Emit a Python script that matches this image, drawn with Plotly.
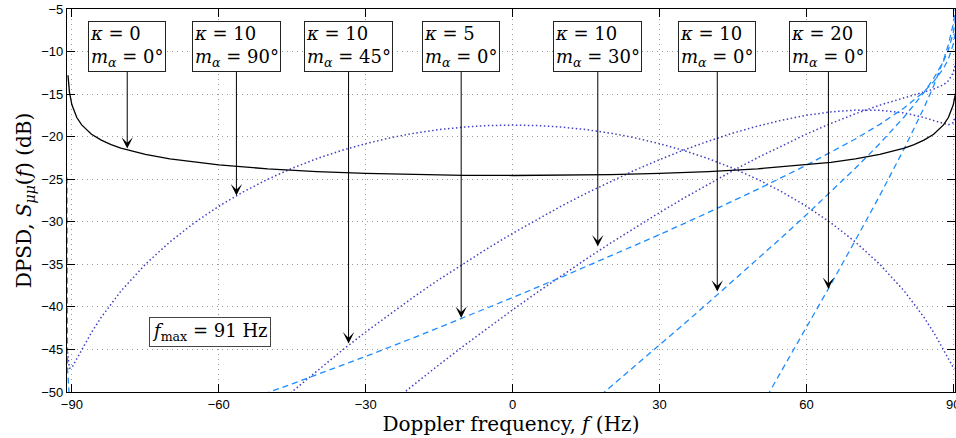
import plotly.graph_objects as go

# ---- data ----
# kappa = 0 (solid black)
f_k0 = [-90.8, -90.5, -90, -89, -88, -86, -84, -82, -80, -75, -70, -65, -60, -50, -40, -30, -20, -10, 0,
        10, 20, 30, 40, 50, 60, 65, 70, 75, 80, 82, 84, 86, 88, 89, 90, 90.5, 90.9]
s_k0 = [-12.78, -14.76, -16.26, -17.75, -18.62, -19.71, -20.41, -20.93, -21.34, -22.09, -22.62, -23.01, -23.32,
        -23.78, -24.10, -24.31, -24.45, -24.54, -24.56,
        -24.54, -24.45, -24.31, -24.10, -23.78, -23.32, -23.01, -22.62, -22.09, -21.34, -20.93, -20.41, -19.71,
        -18.62, -17.75, -16.26, -14.76, -11.27]

# kappa = 10, m_alpha = 90 deg (dotted)
f_k10_90 = [-90.9, -90.5, -90, -89, -88, -86, -84, -80, -75, -70, -65, -60, -55, -50, -45, -40, -35, -30, -25,
            -20, -15, -10, -5, 0, 5, 10, 15, 20, 25, 30, 35, 40, 45, 50, 55, 60, 65, 70, 75, 80, 84, 86, 88,
            89, 90, 90.5, 90.9]
s_k10_90 = [-45.31, -47.22, -47.13, -46.14, -45.04, -43.01, -41.21, -38.15, -35.00, -32.37, -30.12, -28.18,
            -26.48, -25.00, -23.71, -22.59, -21.63, -20.82, -20.14, -19.59, -19.17, -18.88, -18.70, -18.64,
            -18.70, -18.88, -19.17, -19.59, -20.14, -20.82, -21.63, -22.59, -23.71, -25.00, -26.48, -28.18,
            -30.12, -32.37, -35.00, -38.15, -41.21, -43.01, -45.04, -46.14, -47.13, -47.22, -45.31]

# kappa = 10, m_alpha = 45 deg (dotted)
f_k10_45 = [-55, -50, -45, -40, -35, -30, -25, -20, -15, -10, -5, 0, 5, 10, 15, 20, 25, 30, 35, 40, 45, 50,
            55, 60, 65, 70, 75, 80, 84, 86, 88, 89, 90, 90.5, 90.9]
s_k10_45 = [-55.18, -52.50, -49.95, -47.52, -45.19, -42.95, -40.81, -38.75, -36.78, -34.89, -33.09, -31.36,
            -29.71, -28.14, -26.66, -25.25, -23.93, -22.70, -21.56, -20.52, -19.58, -18.76, -18.06, -17.49,
            -17.09, -16.88, -16.90, -17.21, -17.74, -18.11, -18.49, -18.60, -18.35, -17.62, -14.86]

# kappa = 10, m_alpha = 30 deg (dotted)
f_k10_30 = [-25, -22, -20, -15, -10, -5, 0, 5, 10, 15, 20, 25, 30, 35, 40, 45, 50, 55, 60, 65, 70, 75, 80,
            84, 86, 88, 89, 90, 90.5, 90.9]
s_k10_30 = [-51.35, -49.96, -49.04, -46.79, -44.59, -42.45, -40.35, -38.31, -36.33, -34.39, -32.51, -30.69,
            -28.92, -27.21, -25.56, -23.99, -22.48, -21.05, -19.70, -18.45, -17.31, -16.29, -15.40, -14.76,
            -14.41, -13.90, -13.44, -12.47, -11.28, -8.08]

# kappa = 5, m_alpha = 0 deg (dashed)
f_k5_0 = [-91, -90.9, -90.5, -90, -88, -84, -80, -70, -60, -55, -50, -45, -40, -35, -30, -20, -10, 0, 10, 20,
          30, 40, 50, 60, 70, 75, 80, 84, 86, 88, 89, 90, 90.5, 90.9]
s_k5_0 = [-24.8, -47.3, -50.71, -52.09, -53.97, -54.81, -54.79, -53.67, -51.99, -51.05, -50.07, -49.04,
          -47.99, -46.92, -45.82, -43.58, -41.27, -38.91, -36.50, -34.03, -31.51, -28.90, -26.20, -23.36,
          -20.27, -18.55, -16.61, -14.72, -13.54, -11.98, -10.87, -9.14, -7.52, -3.93]

# kappa = 10, m_alpha = 0 deg (dashed)
f_k10_0 = [18, 19, 20, 25, 30, 35, 40, 45, 50, 55, 60, 65, 70, 75, 80, 84, 86, 88, 89, 90, 90.5, 90.9]
s_k10_0 = [-50.38, -49.89, -49.41, -46.96, -44.49, -42.01, -39.50, -36.97, -34.42, -31.82, -29.18, -26.49,
           -23.71, -20.80, -17.66, -14.82, -13.16, -11.12, -9.78, -7.80, -6.07, -2.39]

# kappa = 20, m_alpha = 0 deg (dashed)
f_k20_0 = [52, 52.5, 55, 60, 65, 70, 75, 80, 84, 86, 88, 89, 90, 90.5]
s_k20_0 = [-50.46, -49.96, -47.47, -42.44, -37.36, -32.19, -26.90, -21.38, -16.63, -14.01, -11.02, -9.19,
           -6.75, -4.77]

x_ticks = [-90, -60, -30, 0, 30, 60, 90]
y_ticks = [-50, -45, -40, -35, -30, -25, -20, -15, -10, -5]

# annotation labels and arrow tips (f, dB)
labels = [
    ("<i>κ</i> = 0<br><i>m</i><sub><i>α</i></sub> = 0°", -78.7, -21.4),
    ("<i>κ</i> = 10<br><i>m</i><sub><i>α</i></sub> = 90°", -56.4, -26.9),
    ("<i>κ</i> = 10<br><i>m</i><sub><i>α</i></sub> = 45°", -33.5, -44.3),
    ("<i>κ</i> = 5<br><i>m</i><sub><i>α</i></sub> = 0°", -10.5, -41.3),
    ("<i>κ</i> = 10<br><i>m</i><sub><i>α</i></sub> = 30°", 17.4, -32.9),
    ("<i>κ</i> = 10<br><i>m</i><sub><i>α</i></sub> = 0°", 41.8, -38.2),
    ("<i>κ</i> = 20<br><i>m</i><sub><i>α</i></sub> = 0°", 64.5, -37.9),
]

DOT = "#4040c0"
DASH = "#1e8cff"
SERIF = "DejaVu Serif"

fig = go.Figure()
dot_style = dict(color=DOT, width=1.5, dash="1.5px,2.5px")
dash_style = dict(color=DASH, width=1.3, dash="6px,4px")

fig.add_trace(go.Scatter(x=f_k10_90, y=s_k10_90, mode="lines", line=dot_style))
fig.add_trace(go.Scatter(x=f_k10_45, y=s_k10_45, mode="lines", line=dot_style))
fig.add_trace(go.Scatter(x=f_k10_30, y=s_k10_30, mode="lines", line=dot_style))
fig.add_trace(go.Scatter(x=f_k5_0, y=s_k5_0, mode="lines", line=dash_style))
fig.add_trace(go.Scatter(x=f_k10_0, y=s_k10_0, mode="lines", line=dash_style))
fig.add_trace(go.Scatter(x=f_k20_0, y=s_k20_0, mode="lines", line=dash_style))
fig.add_trace(go.Scatter(x=f_k0, y=s_k0, mode="lines", line=dict(color="black", width=1.3)))

annotations = []
for txt, fx, fy in labels:
    annotations.append(dict(
        x=fx, y=fy, xref="x", yref="y", text=txt, showarrow=True,
        ax=fx, ay=-9.45, axref="x", ayref="y",
        arrowhead=3, arrowsize=1.9, arrowwidth=1, arrowcolor="black",
        align="left", bgcolor="white", bordercolor="#222", borderwidth=1, borderpad=1,
        font=dict(family=SERIF, size=18, color="black"),
    ))
annotations.append(dict(
    x=-61.8, y=-42.97, xref="x", yref="y",
    text="<i>f</i><sub>max</sub> = 91 Hz", showarrow=False,
    bgcolor="white", bordercolor="#444", borderwidth=1, borderpad=2,
    font=dict(family=SERIF, size=18, color="black"),
))

axis_common = dict(
    showline=True, linecolor="black", linewidth=1.2, mirror="ticks",
    ticks="inside", ticklen=8, tickwidth=1, tickcolor="black",
    showgrid=True, gridcolor="#9a9a9a", gridwidth=1, griddash="1px,4px",
    zeroline=False, tickfont=dict(family="Liberation Sans", size=13, color="black"),
    ticklabeloverflow="allow", automargin=False,
)

fig.update_layout(
    width=956, height=438,
    margin=dict(l=67, r=1, t=9, b=46, autoexpand=False),
    paper_bgcolor="white", plot_bgcolor="white",
    showlegend=False,
    annotations=annotations,
    xaxis=dict(range=[-91, 90.35], tickvals=x_ticks, ticktext=[("−" + str(-v)) if v < 0 else str(v) for v in x_ticks],
               title=dict(text="Doppler frequency, <i>f</i> (Hz)", standoff=3,
                          font=dict(family=SERIF, size=20, color="black")),
               **axis_common),
    yaxis=dict(range=[-50, -5], tickvals=y_ticks, ticktext=[("−" + str(-v)) for v in y_ticks],
               title=dict(text="DPSD, <i>S</i><sub><i>μμ</i></sub>(<i>f</i>) (dB)", standoff=4,
                          font=dict(family=SERIF, size=20, color="black")),
               **axis_common),
)

fig.write_html("out.html")
